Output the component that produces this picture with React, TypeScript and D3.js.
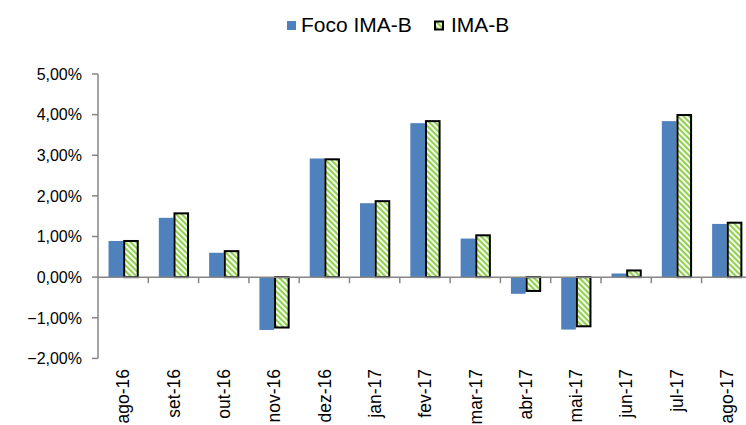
import { useEffect, useRef } from 'react';
import * as d3 from 'd3';

// months on the x axis
const months = ['ago-16', 'set-16', 'out-16', 'nov-16', 'dez-16', 'jan-17', 'fev-17', 'mar-17', 'abr-17', 'mai-17', 'jun-17', 'jul-17', 'ago-17'];
// monthly return, %
const focoImaB = [0.89, 1.46, 0.6, -1.3, 2.92, 1.82, 3.79, 0.95, -0.41, -1.29, 0.09, 3.84, 1.31];
const imaB = [0.89, 1.57, 0.64, -1.24, 2.9, 1.87, 3.84, 1.03, -0.34, -1.21, 0.165, 3.99, 1.34];
const yTicks = [5, 4, 3, 2, 1, 0, -1, -2];
const seriesNames = ['Foco IMA-B', 'IMA-B'];

const W = 746;
const H = 425;
const FONT = '"Liberation Sans", Arial, sans-serif';

export default function App() {
    const ref = useRef<SVGSVGElement>(null);

    useEffect(() => {
        const svg = d3.select(ref.current);
        svg.selectAll('*').remove();

        const x = d3.scaleBand<string>().domain(months).range([98, 98 + 50.3 * months.length]);
        const x1 = d3.scaleBand<string>().domain(seriesNames).range([0, x.bandwidth()]).paddingOuter(0.72);
        const y = d3.scaleLinear().domain([-2, 5]).range([358.4, 74]);

        // stripes for IMA-B
        const defs = svg.append('defs');
        const pat = defs
            .append('pattern')
            .attr('id', 'stripes')
            .attr('patternUnits', 'userSpaceOnUse')
            .attr('width', 4)
            .attr('height', 4)
            .attr('patternTransform', 'rotate(-45)');
        pat.append('rect').attr('width', 4).attr('height', 4).attr('fill', '#fff');
        pat.append('rect').attr('width', 2.2).attr('height', 4).attr('fill', '#92D050');

        // y axis
        const axisColor = '#868686';
        svg.append('line').attr('x1', 98).attr('x2', 98).attr('y1', y(5)).attr('y2', y(-2)).attr('stroke', axisColor).attr('stroke-width', 1.5);
        svg.selectAll('.ytick')
            .data(yTicks)
            .enter()
            .append('line')
            .attr('x1', 92)
            .attr('x2', 98)
            .attr('y1', (d) => y(d))
            .attr('y2', (d) => y(d))
            .attr('stroke', axisColor)
            .attr('stroke-width', 1.5);
        svg.selectAll('.ylab')
            .data(yTicks)
            .enter()
            .append('text')
            .attr('x', 82)
            .attr('y', (d) => y(d))
            .attr('dy', '0.36em')
            .attr('text-anchor', 'end')
            .attr('font-family', FONT)
            .attr('font-size', 16)
            .attr('fill', '#000')
            .text((d) => d3.format('.2f')(d).replace('.', ',') + '%');

        // bars
        const g = svg.append('g');
        g.selectAll('.foco')
            .data(months)
            .enter()
            .append('rect')
            .attr('x', (m) => (x(m) as number) + (x1('Foco IMA-B') as number))
            .attr('width', x1.bandwidth())
            .attr('y', (m, i) => Math.min(y(focoImaB[i]), y(0)))
            .attr('height', (m, i) => Math.abs(y(focoImaB[i]) - y(0)))
            .attr('fill', '#4F81BD');
        g.selectAll('.ima')
            .data(months)
            .enter()
            .append('rect')
            .attr('x', (m) => (x(m) as number) + (x1('IMA-B') as number) + 1)
            .attr('width', x1.bandwidth() - 1)
            .attr('y', (m, i) => Math.min(y(imaB[i]), y(0)))
            .attr('height', (m, i) => Math.abs(y(imaB[i]) - y(0)))
            .attr('fill', 'url(#stripes)')
            .attr('stroke', '#000')
            .attr('stroke-width', 2);

        // zero line + category ticks
        svg.append('line').attr('x1', 98).attr('x2', W).attr('y1', y(0)).attr('y2', y(0)).attr('stroke', axisColor).attr('stroke-width', 1.5);
        svg.selectAll('.xtick')
            .data(months.slice(1))
            .enter()
            .append('line')
            .attr('x1', (m) => x(m) as number)
            .attr('x2', (m) => x(m) as number)
            .attr('y1', y(0))
            .attr('y2', y(0) + 6)
            .attr('stroke', axisColor)
            .attr('stroke-width', 1.5);

        // month labels
        svg.selectAll('.xlab')
            .data(months)
            .enter()
            .append('text')
            .attr('transform', (m) => `translate(${(x(m) as number) + x.bandwidth() / 2},369) rotate(-90)`)
            .attr('dy', '0.36em')
            .attr('text-anchor', 'end')
            .attr('font-family', FONT)
            .attr('font-size', 17.5)
            .attr('fill', '#000')
            .text((m) => m);

        // legend
        const leg = svg.append('g');
        leg.append('rect').attr('x', 287).attr('y', 21).attr('width', 9).attr('height', 9).attr('fill', '#4F81BD');
        leg.append('text').attr('x', 301).attr('y', 32).attr('font-family', FONT).attr('font-size', 21).text('Foco IMA-B');
        leg.append('rect').attr('x', 435).attr('y', 21.5).attr('width', 8).attr('height', 8).attr('fill', 'url(#stripes)').attr('stroke', '#000').attr('stroke-width', 2);
        leg.append('text').attr('x', 451).attr('y', 32).attr('font-family', FONT).attr('font-size', 21).text('IMA-B');
    }, []);

    return (
        <svg ref={ref} width={W} height={H} style={{ position: 'absolute', left: 0, top: 0, background: '#fff' }} />
    );
}
